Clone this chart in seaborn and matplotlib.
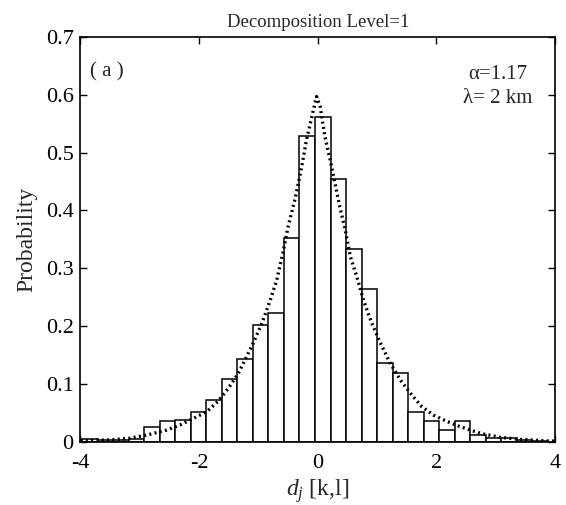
import numpy as np
import pandas as pd
import matplotlib
matplotlib.use("Agg")
import matplotlib.pyplot as plt
import seaborn as sns

# ---- data ----
bin_start = -3.969
bin_width = 0.2615
bar_heights = [0.004, 0.003, 0.003, 0.005, 0.026, 0.035, 0.037, 0.051, 0.072, 0.108,
               0.143, 0.202, 0.222, 0.353, 0.529, 0.561, 0.454, 0.334, 0.264, 0.1355,
               0.118, 0.051, 0.035, 0.021, 0.035, 0.0115, 0.006, 0.007, 0.003, 0.002]

curve_x = [-4.0, -3.5, -3.17, -2.88, -2.55, -2.32, -2.10, -1.87, -1.68, -1.51, -1.34,
           -1.20, -1.09, -0.94, -0.80, -0.69, -0.58, -0.50, -0.38, -0.27, -0.19, -0.10,
           -0.02, 0.04, 0.12, 0.21, 0.29, 0.37, 0.46, 0.55, 0.66, 0.77, 0.91, 1.05,
           1.22, 1.39, 1.56, 1.75, 1.95, 2.18, 2.40, 2.74, 3.07, 3.41, 3.92, 4.0]
curve_y = [0.002, 0.003, 0.006, 0.0115, 0.020, 0.029, 0.040, 0.052, 0.070, 0.092, 0.118,
           0.147, 0.170, 0.205, 0.245, 0.280, 0.330, 0.372, 0.421, 0.476, 0.522, 0.562,
           0.597, 0.580, 0.528, 0.487, 0.447, 0.407, 0.368, 0.320, 0.285, 0.245, 0.205, 0.172,
           0.136, 0.107, 0.084, 0.061, 0.046, 0.035, 0.026, 0.0145, 0.0076, 0.004, 0.001, 0.001]

x_ticks = [-4, -2, 0, 2, 4]
y_ticks = [0, 0.1, 0.2, 0.3, 0.4, 0.5, 0.6, 0.7]
y_tick_labels = ["0", "0.1", "0.2", "0.3", "0.4", "0.5", "0.6", "0.7"]

title_text = "Decomposition Level=1"
panel_text = "( a )"
alpha_text = "\u03b1=1.17"
lambda_text = "\u03bb= 2 km"

# ---- figure ----
sns.set_style("ticks")
plt.rcParams["font.family"] = ["Liberation Serif", "DejaVu Serif"]
plt.rcParams["mathtext.fontset"] = "custom"
plt.rcParams["mathtext.rm"] = "Liberation Serif"
plt.rcParams["mathtext.it"] = "Liberation Serif:italic"

fig = plt.figure(figsize=(5.66, 5.05), dpi=100)
ax = fig.add_axes([0.1422, 0.1254, 0.8384, 0.8013])

n = len(bar_heights)
edges = [bin_start + i * bin_width for i in range(n + 1)]
centers = [bin_start + (i + 0.5) * bin_width for i in range(n)]
df = pd.DataFrame({"x": centers, "w": bar_heights})

sns.histplot(data=df, x="x", weights="w", bins=edges, stat="count",
             color="white", edgecolor="black", linewidth=1.1, alpha=1.0, ax=ax)

cdf = pd.DataFrame({"x": curve_x, "y": curve_y})
sns.lineplot(data=cdf, x="x", y="y", color="black", linewidth=2.4, ax=ax,
             dashes=False, linestyle=(0, (0.6, 1.0)), sort=True)

ax.set_xlim(-4, 4)
ax.set_ylim(0, 0.7)
ax.set_xticks(x_ticks)
ax.set_xticklabels([str(t) for t in x_ticks])
ax.set_yticks(y_ticks)
ax.set_yticklabels(y_tick_labels)
ax.tick_params(direction="in", top=True, right=True, length=5, width=1,
               labelsize=16, colors="black")
ax.tick_params(axis="x", pad=9)
ax.tick_params(axis="y", pad=5)

for s in ax.spines.values():
    s.set_visible(True)
    s.set_linewidth(1.2)
    s.set_color("black")

ax.set_title(title_text, fontsize=13.5, pad=7)
ax.set_ylabel("Probability", fontsize=17, labelpad=6)
ax.set_xlabel(r"$d_j$ [k,l]", fontsize=17, labelpad=3)

ax.text(0.02, 0.915, panel_text, transform=ax.transAxes, fontsize=15,
        ha="left", va="center")
ax.text(0.88, 0.907, alpha_text, transform=ax.transAxes, fontsize=15,
        ha="center", va="center")
ax.text(0.88, 0.848, lambda_text, transform=ax.transAxes, fontsize=15,
        ha="center", va="center")

fig.savefig("out.png", dpi=100)
